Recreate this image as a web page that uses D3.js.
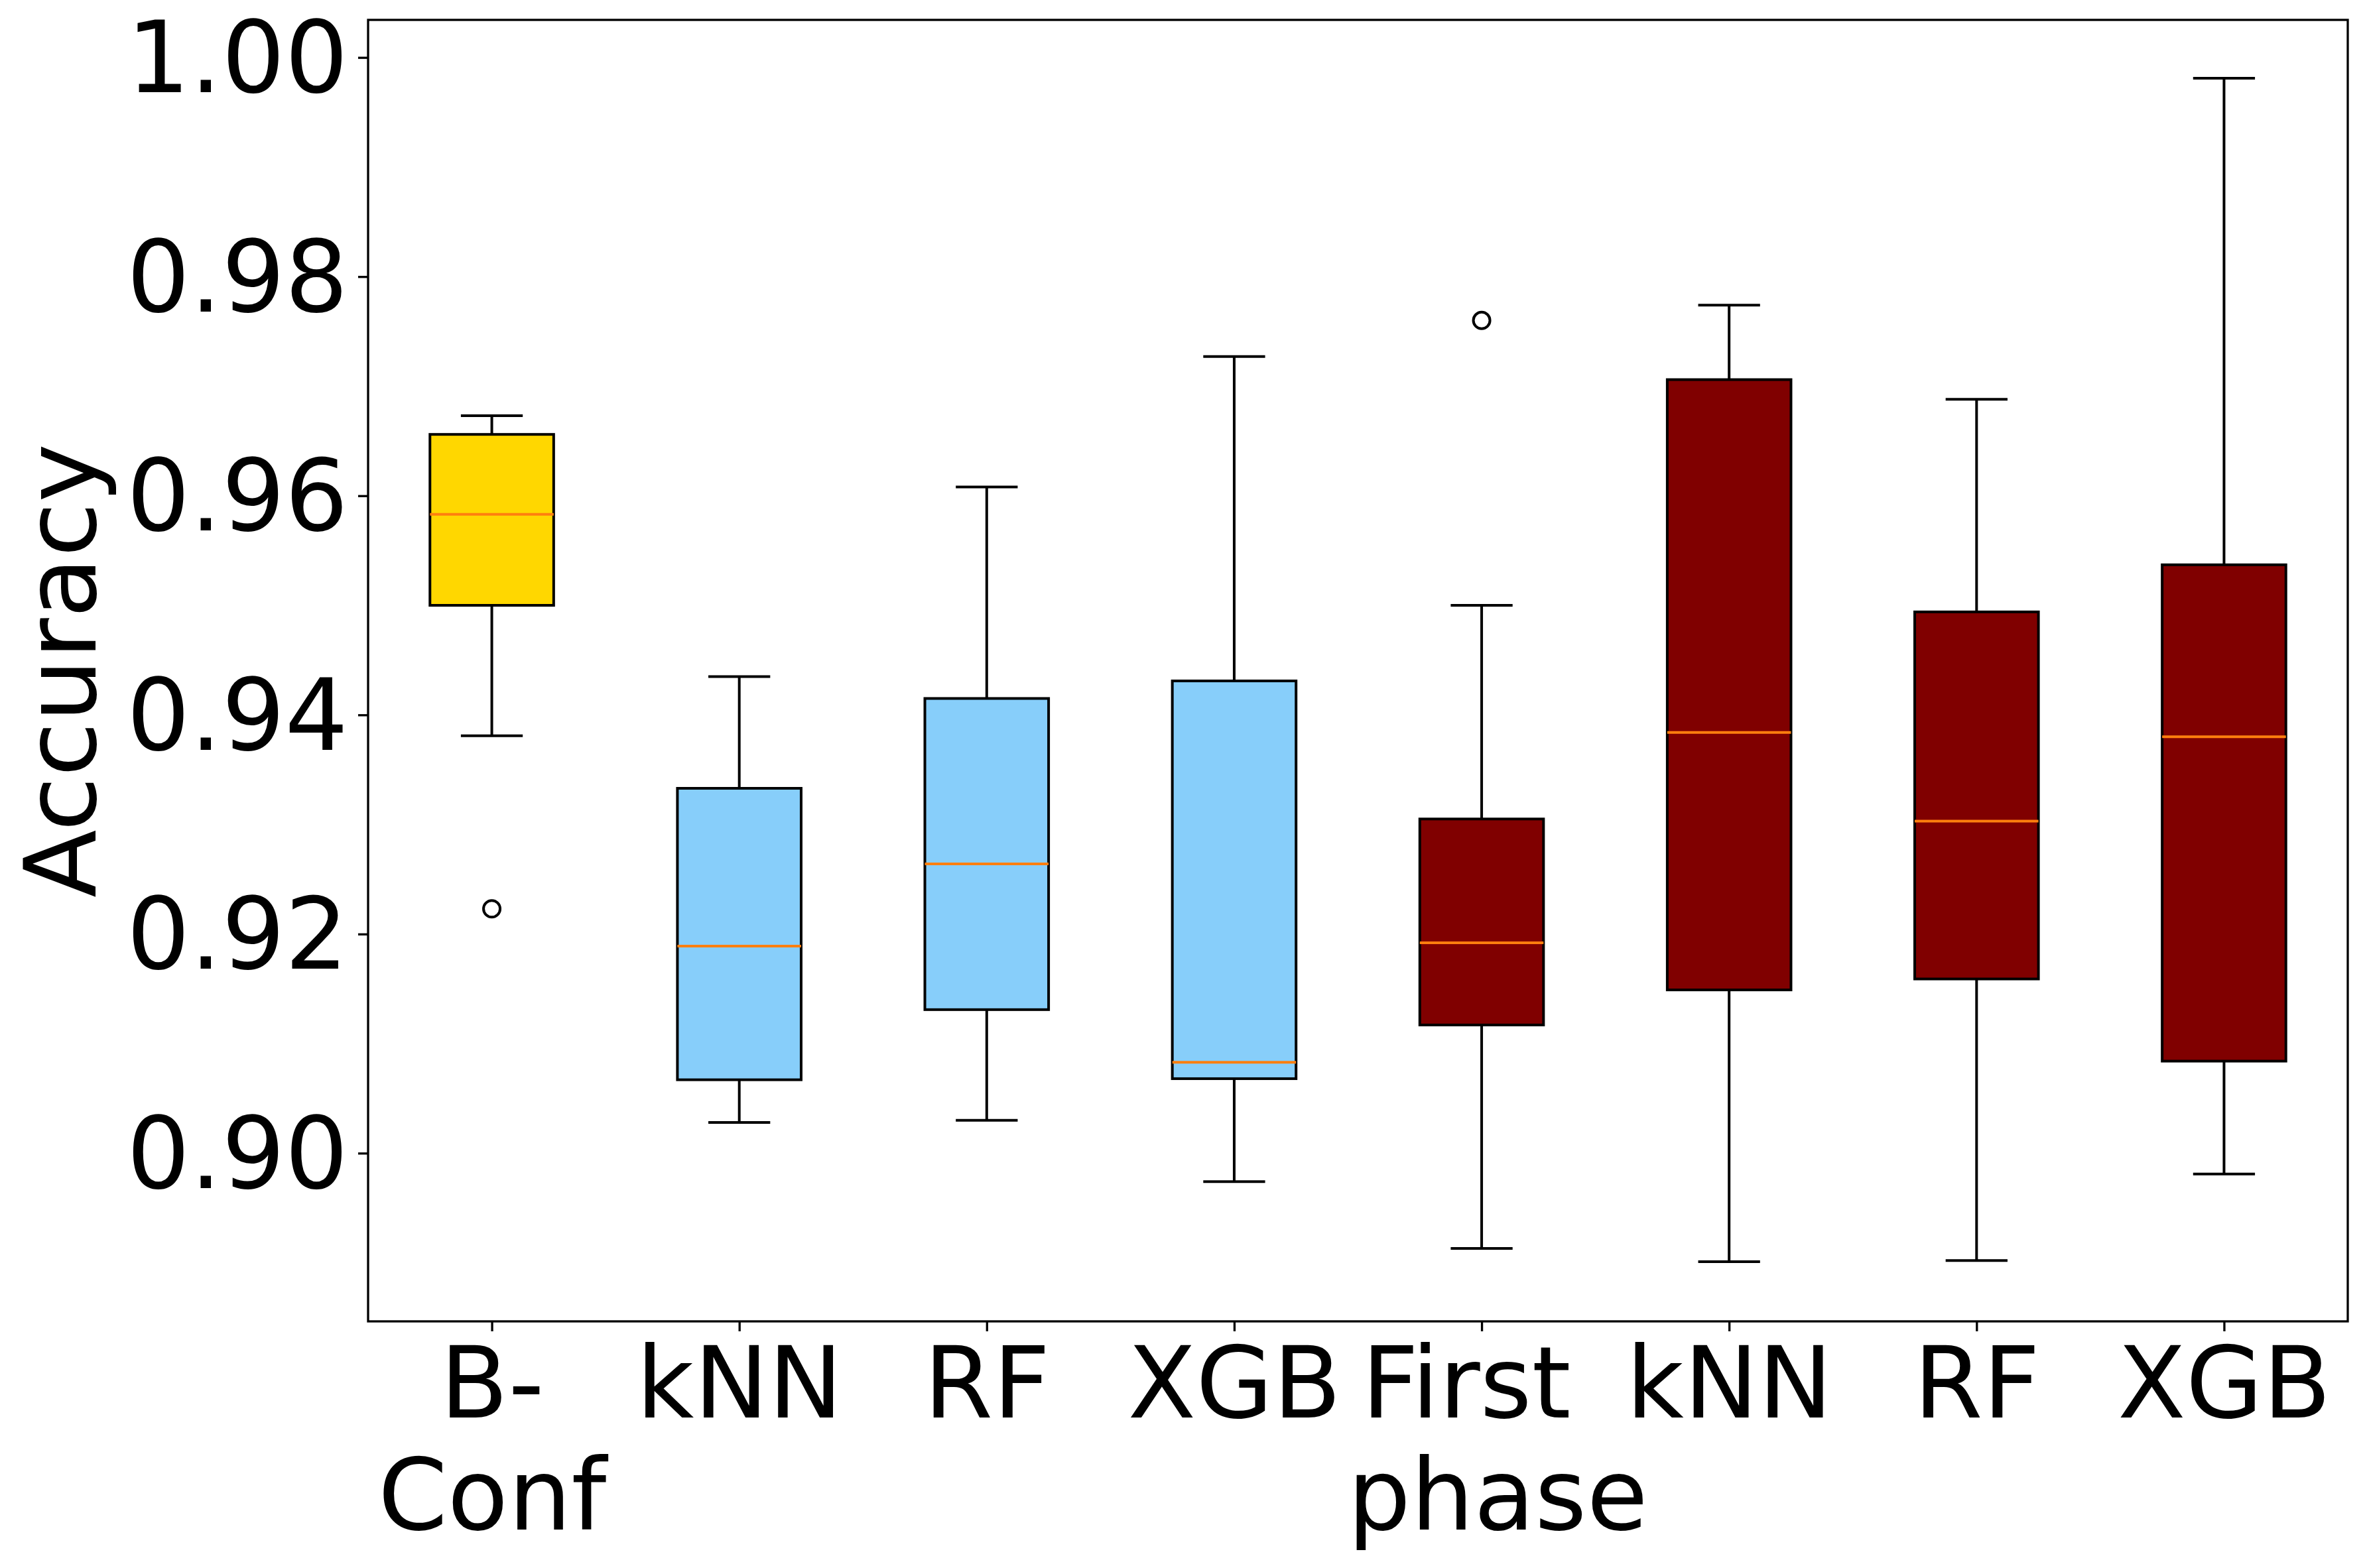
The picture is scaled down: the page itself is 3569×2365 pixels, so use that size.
<!DOCTYPE html>
<html>
<head>
<meta charset="utf-8">
<script src="https://cdn.jsdelivr.net/npm/d3@7"></script>
<style>
  html, body { margin: 0; padding: 0; background: #fff; }
  svg { display: block; }
  text { font-family: "DejaVu Sans", sans-serif; fill: #000; }
</style>
</head>
<body>
<svg id="chart" width="3569" height="2365"></svg>
<script>
// ---- data ----
const categories = ["B-Conf", "kNN", "RF", "XGB", "First phase", "kNN", "RF", "XGB"];
const labelLines = [["B-", "Conf"], ["kNN"], ["RF"], ["XGB"], ["First ", " phase"], ["kNN"], ["RF"], ["XGB"]];
const whiskerLow  = [0.9381, 0.9028, 0.9030, 0.8974, 0.8913, 0.8901, 0.8902, 0.8981];
const q1          = [0.9500, 0.9067, 0.9131, 0.9068, 0.9117, 0.9149, 0.9159, 0.9084];
const medians     = [0.9583, 0.9189, 0.9264, 0.9083, 0.9192, 0.9384, 0.9303, 0.9380];
const q3          = [0.9656, 0.9333, 0.9415, 0.9431, 0.9305, 0.9706, 0.9494, 0.9537];
const whiskerHigh = [0.9673, 0.9435, 0.9608, 0.9727, 0.9500, 0.9774, 0.9688, 0.9981];
const fliers      = [[0.9223], [], [], [], [0.9760], [], [], []];
const boxColors   = ["#FFD700", "#87CEFA", "#87CEFA", "#87CEFA", "#800000", "#800000", "#800000", "#800000"];
const yTicks      = [0.90, 0.92, 0.94, 0.96, 0.98, 1.00];
const yLabel      = "Accuracy";

// ---- layout ----
const L = 555, R = 3540, T = 30, B = 1993;
const FS = 150;
const svg = d3.select("#chart");

const x = d3.scaleLinear().domain([0.5, categories.length + 0.5]).range([L, R]);
const y = d3.scaleLinear().domain([0.88465, 1.00343]).range([B, T]);

const boxes = categories.map((c, i) => ({
  pos: i + 1, lo: whiskerLow[i], q1: q1[i], med: medians[i], q3: q3[i], hi: whiskerHigh[i],
  fliers: fliers[i], color: boxColors[i]
}));

const boxW = x(1.25) - x(1);   // half width of box (0.25 units)
const capW = x(1.125) - x(1);  // half width of caps
const LW = 4;

const g = svg.append("g");
boxes.forEach(b => {
  const cx = x(b.pos);
  g.append("line").attr("x1", cx).attr("x2", cx).attr("y1", y(b.q1)).attr("y2", y(b.lo))
    .attr("stroke", "#000").attr("stroke-width", LW);
  g.append("line").attr("x1", cx).attr("x2", cx).attr("y1", y(b.q3)).attr("y2", y(b.hi))
    .attr("stroke", "#000").attr("stroke-width", LW);
  [b.lo, b.hi].forEach(v => {
    g.append("line").attr("x1", cx - capW).attr("x2", cx + capW).attr("y1", y(v)).attr("y2", y(v))
      .attr("stroke", "#000").attr("stroke-width", LW);
  });
  g.append("rect").attr("x", cx - boxW).attr("width", 2 * boxW)
    .attr("y", y(b.q3)).attr("height", y(b.q1) - y(b.q3))
    .attr("fill", b.color).attr("stroke", "#000").attr("stroke-width", LW);
  g.append("line").attr("x1", cx - boxW).attr("x2", cx + boxW).attr("y1", y(b.med)).attr("y2", y(b.med))
    .attr("stroke", "#ff7f0e").attr("stroke-width", LW);
  b.fliers.forEach(v => {
    g.append("circle").attr("cx", cx).attr("cy", y(v)).attr("r", 12.5)
      .attr("fill", "none").attr("stroke", "#000").attr("stroke-width", 4);
  });
});

// ---- axes frame ----
svg.append("rect").attr("x", L).attr("y", T).attr("width", R - L).attr("height", B - T)
  .attr("fill", "none").attr("stroke", "#000").attr("stroke-width", 3.3);

// y axis
const yAxis = d3.axisLeft(y).tickValues(yTicks).tickFormat(d3.format(".2f")).tickSize(15).tickPadding(15);
const yg = svg.append("g").attr("transform", `translate(${L},0)`).call(yAxis);
yg.select(".domain").remove();
yg.selectAll(".tick line").attr("stroke", "#000").attr("stroke-width", 3.3);
yg.selectAll(".tick text").attr("font-size", FS).attr("font-family", "DejaVu Sans")
  .attr("dy", null).attr("dominant-baseline", "central").attr("fill", "#000");

// x axis
const xAxis = d3.axisBottom(x).tickValues(boxes.map(b => b.pos)).tickFormat("").tickSize(15);
const xg = svg.append("g").attr("transform", `translate(0,${B})`).call(xAxis);
xg.select(".domain").remove();
xg.selectAll(".tick line").attr("stroke", "#000").attr("stroke-width", 3.3);
xg.selectAll(".tick").each(function(d, i) {
  const t = d3.select(this).append("text")
    .attr("text-anchor", "middle").attr("font-size", FS).attr("font-family", "DejaVu Sans")
    .attr("fill", "#000").attr("xml:space", "preserve").style("white-space", "pre");
  labelLines[i].forEach((ln, k) => {
    t.append("tspan").attr("x", 0).attr("y", 145 + k * 169).text(ln);
  });
});

// y label
svg.append("text")
  .attr("transform", `translate(144,${(T + B) / 2}) rotate(-90)`)
  .attr("text-anchor", "middle").attr("font-size", FS).text(yLabel);
</script>
</body>
</html>
